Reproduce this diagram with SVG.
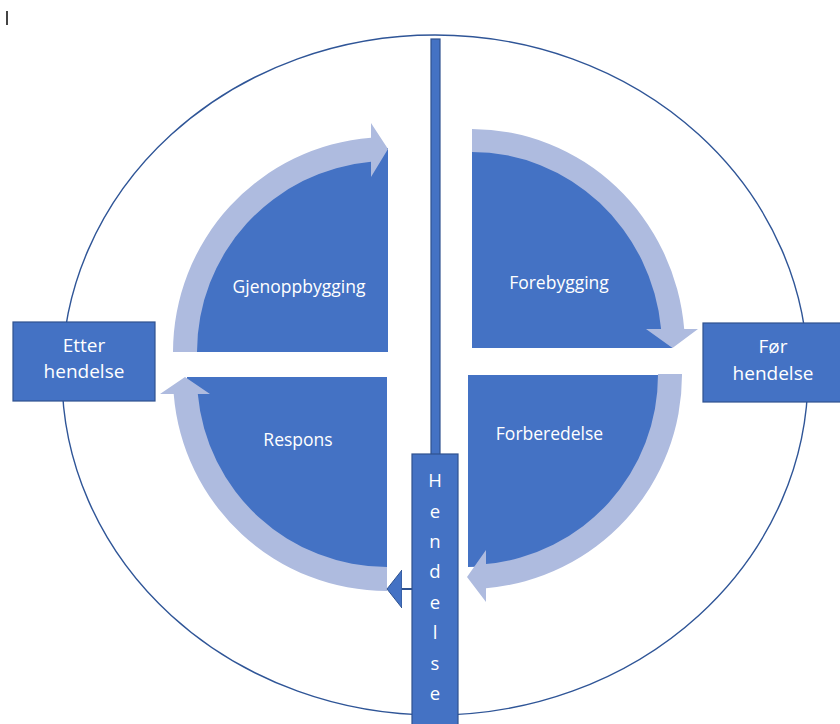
<svg xmlns="http://www.w3.org/2000/svg" width="840" height="724" viewBox="0 0 840 724">
  <style>
    .pie { fill: #4472C4; }
    .band { fill: #AEBBDF; }
    .box { fill: #4472C4; stroke: #2F528F; stroke-width: 1.2; }
    .lbl { font-family: "Open Sans", "Liberation Sans", sans-serif; fill: #FFFFFF; text-anchor: middle; }
    .q { font-size: 17.5px; }
    .b { font-size: 19px; }
    .v { font-size: 18.5px; }
    .conn { stroke: #2F528F; stroke-width: 2; fill: none; }
  </style>
  <defs>
    <marker id="tri" markerUnits="userSpaceOnUse" markerWidth="16" markerHeight="40" viewBox="0 0 16 40" refX="0" refY="19" orient="auto">
      <path d="M0,0 L15,19 L0,38 Z" fill="#4472C4" stroke="#2F528F" stroke-width="1"/>
    </marker>
  </defs>
  <rect width="840" height="724" fill="#FFFFFF"/>
  <rect x="6" y="11" width="2" height="14" fill="#444444"/>

  <ellipse id="outer-circle" cx="435" cy="375" rx="373" ry="340" fill="none" stroke="#2F5597" stroke-width="1.4"/>

  <g id="gjenoppbygging">
    <path class="pie" d="M388,352 L184,352 A204,204 0 0 1 388,148 Z"/>
    <path class="band" d="M173,352 A215,215 0 0 1 371,137.7 L371,123 L388,149 L371,177 L371,161.8 A191,191 0 0 0 197,352 Z"/>
    <text class="lbl q" x="299" y="293">Gjenoppbygging</text>
  </g>

  <g id="respons">
    <path class="pie" d="M387,377 L187,377 A200,200 0 0 0 387,577 Z"/>
    <path class="band" d="M387,591 A214,214 0 0 1 173.7,394 L160,394 L185,377 L210,394 L197.8,394 A190,190 0 0 0 387,567 Z"/>
    <text class="lbl q" x="298" y="446">Respons</text>
  </g>

  <g id="forebygging">
    <path class="pie" d="M472,348 L472,148 A200,200 0 0 1 672,348 Z"/>
    <path class="band" d="M472,129 A213,219 0 0 1 684.2,329 L698,329 L672.5,348 L646,329 L661.1,329 A190,196 0 0 0 472,152 Z"/>
    <text class="lbl q" x="559" y="289">Forebygging</text>
  </g>

  <g id="forberedelse">
    <path class="pie" d="M468,375 L660,375 A192,192 0 0 1 468,567 Z"/>
    <path class="band" d="M682,374 A214,214 0 0 1 486,588.2 L486,602 L467,577 L486,550 L486,564.1 A190,190 0 0 0 658,374 Z"/>
    <text class="lbl q" x="549.5" y="440">Forberedelse</text>
  </g>

  <g id="tidslinje">
    <rect class="box" x="431" y="39" width="9" height="416"/>
  </g>

  <g id="hendelse">
    <rect class="box" x="412" y="454" width="46" height="280"/>
    <text class="lbl v" x="435" y="487">H</text>
    <text class="lbl v" x="435" y="518">e</text>
    <text class="lbl v" x="435" y="548">n</text>
    <text class="lbl v" x="435" y="578">d</text>
    <text class="lbl v" x="435" y="609">e</text>
    <text class="lbl v" x="435" y="639">l</text>
    <text class="lbl v" x="435" y="670">s</text>
    <text class="lbl v" x="435" y="700">e</text>
  </g>

  <g id="etter-hendelse">
    <rect class="box" x="13" y="322" width="142" height="79"/>
    <text class="lbl b" x="84" y="352">Etter</text>
    <text class="lbl b" x="84" y="378">hendelse</text>
  </g>

  <g id="for-hendelse">
    <rect class="box" x="703" y="323" width="140" height="79"/>
    <text class="lbl b" x="773" y="353">Før</text>
    <text class="lbl b" x="773" y="380">hendelse</text>
  </g>

  <g id="connectors">
    <line class="conn" x1="412" y1="589" x2="402" y2="589" marker-end="url(#tri)"/>
  </g>
</svg>
